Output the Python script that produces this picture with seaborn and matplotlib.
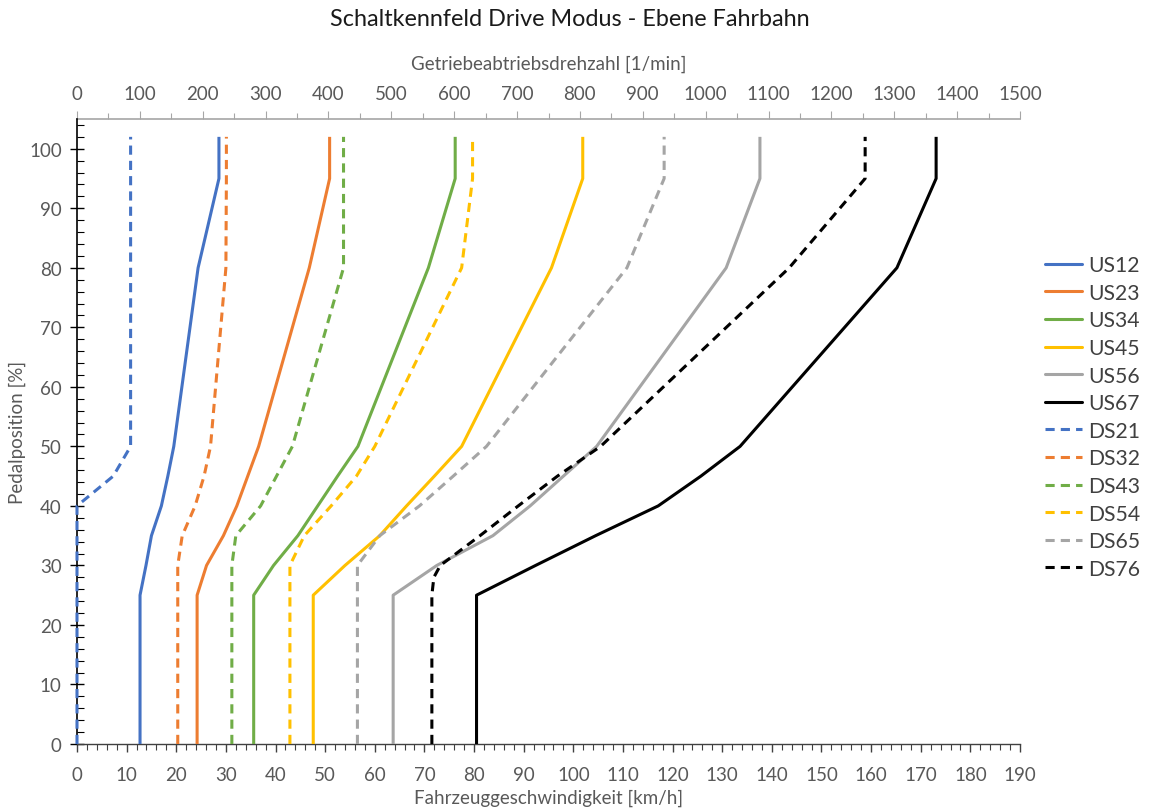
import matplotlib
matplotlib.use("Agg")
import matplotlib.pyplot as plt
from matplotlib.lines import Line2D
from matplotlib.ticker import MultipleLocator
import seaborn as sns
import pandas as pd

# ---------------- data ----------------
series_names = ["US12", "US23", "US34", "US45", "US56", "US67",
                "DS21", "DS32", "DS43", "DS54", "DS65", "DS76"]

pedal_us = [0, 25, 30, 35, 40, 45, 50, 80, 95, 102]
us12 = [12.7, 12.7, 13.9, 15.0, 17.0, 18.3, 19.5, 24.4, 28.6, 28.6]
us23 = [24.2, 24.2, 26.1, 29.5, 32.2, 34.4, 36.6, 46.8, 50.9, 50.9]
us34 = [35.6, 35.6, 39.6, 44.5, 48.5, 52.5, 56.6, 70.8, 76.2, 76.2]
us45 = [47.6, 47.6, 54.0, 61.0, 66.4, 72.0, 77.5, 95.6, 101.9, 101.9]
us56 = [63.7, 63.7, 72.5, 83.8, 91.3, 98.0, 104.7, 130.8, 137.6, 137.6]
us67 = [80.5, 80.5, 92.4, 104.5, 117.1, 125.7, 133.6, 165.2, 173.1, 173.1]

pedal_ds21 = [0, 40, 45, 50, 102]
ds21 = [0.0, 0.0, 7.3, 10.8, 10.8]
pedal_ds = [0, 30, 35, 40, 45, 50, 80, 95, 102]
ds32 = [20.3, 20.3, 21.2, 23.8, 25.6, 26.9, 30.0, 30.1, 30.1]
ds43 = [31.2, 31.2, 32.0, 37.0, 40.2, 43.4, 53.7, 53.7, 53.7]
ds54 = [42.9, 42.9, 45.8, 51.2, 56.3, 60.0, 77.5, 79.7, 79.7]
ds65 = [56.5, 56.5, 61.0, 69.0, 75.8, 82.5, 110.8, 118.3, 118.3]
pedal_ds76 = [0, 25, 28, 30, 35, 40, 45, 50, 80, 95, 102]
ds76 = [71.5, 71.5, 71.9, 73.2, 81.2, 88.9, 96.8, 105.5, 143.5, 158.8, 158.8]

x_ticks_kmh = list(range(0, 191, 10))
x_ticks_rpm = list(range(0, 1501, 100))
rpm_max, kmh_max = 1500, 190

colors = {"US12": "#4472C4", "US23": "#ED7D31", "US34": "#70AD47",
          "US45": "#FFC000", "US56": "#A5A5A5", "US67": "#000000",
          "DS21": "#4472C4", "DS32": "#ED7D31", "DS43": "#70AD47",
          "DS54": "#FFC000", "DS65": "#A5A5A5", "DS76": "#000000"}
dash_map = {n: ("" if n.startswith("US") else (3, 2)) for n in series_names}

series_data = [("US12", pedal_us, us12), ("US23", pedal_us, us23),
               ("US34", pedal_us, us34), ("US45", pedal_us, us45),
               ("US56", pedal_us, us56), ("US67", pedal_us, us67),
               ("DS21", pedal_ds21, ds21), ("DS32", pedal_ds, ds32),
               ("DS43", pedal_ds, ds43), ("DS54", pedal_ds, ds54),
               ("DS65", pedal_ds, ds65), ("DS76", pedal_ds76, ds76)]

rows = []
for name, pedal, speed in series_data:
    for i, (p, s) in enumerate(zip(pedal, speed)):
        rows.append({"series": name, "idx": i, "pedal": p, "speed": s})
df = pd.DataFrame(rows)

# ---------------- style ----------------
sns.set_theme(style="white")
plt.rcParams["font.family"] = ["Lato", "DejaVu Sans"]

W, H = 1149, 812
fig = plt.figure(figsize=(W / 100, H / 100), dpi=100)
L, R, T, B = 77, 1020, 120, 745
ax = fig.add_axes([L / W, 1 - B / H, (R - L) / W, (B - T) / H])

sns.lineplot(data=df, x="speed", y="pedal", hue="series", style="series",
             hue_order=series_names, style_order=series_names,
             palette=colors, dashes=dash_map, sort=False, estimator=None,
             linewidth=2.2, ax=ax, legend=False)
for ln in ax.lines:
    ln.set_clip_on(False)
    ln.set_zorder(3)
    ln.set_solid_capstyle("butt")

ax.set_xlim(0, kmh_max)
ax.set_ylim(0, 105)

tick_col = "#595959"
ax.set_xticks(x_ticks_kmh)
ax.xaxis.set_minor_locator(MultipleLocator(2))
ax.yaxis.set_major_locator(MultipleLocator(10))
ax.yaxis.set_minor_locator(MultipleLocator(2))
ax.set_yticks(list(range(0, 101, 10)))

ax.tick_params(axis="x", which="major", direction="out", length=6, width=1,
               color="#404040", labelsize=13.5, labelcolor=tick_col, pad=10,
               bottom=True, top=False)
ax.tick_params(axis="x", which="minor", direction="out", length=4, width=0.8,
               color="#404040", bottom=True, top=False)
ax.tick_params(axis="y", which="major", direction="inout", length=10, width=1,
               color="#000000", labelsize=13.5, labelcolor=tick_col, pad=6,
               left=True, right=False)
ax.tick_params(axis="y", which="minor", direction="in", length=5, width=0.8,
               color="#000000", left=True, right=False)

for s in ["right", "top"]:
    ax.spines[s].set_visible(False)
ax.spines["left"].set_color("#000000")
ax.spines["left"].set_linewidth(1.2)
ax.spines["bottom"].set_color("#404040")
ax.spines["bottom"].set_linewidth(1.0)

ax.set_xlabel("Fahrzeuggeschwindigkeit [km/h]", fontsize=13.5, color=tick_col,
              labelpad=4)
ax.set_ylabel("Pedalposition [%]", fontsize=13.5, color=tick_col, labelpad=2)

secax = ax.secondary_xaxis("top", functions=(lambda v: v * rpm_max / kmh_max,
                                             lambda v: v * kmh_max / rpm_max))
secax.set_xticks(x_ticks_rpm)
secax.xaxis.set_minor_locator(MultipleLocator(50))
secax.tick_params(axis="x", which="major", direction="out", length=6, width=0.8,
                  color="#A6A6A6", labelsize=13.5, labelcolor=tick_col, pad=6)
secax.tick_params(axis="x", which="minor", direction="out", length=4, width=0.8,
                  color="#A6A6A6")
secax.spines["top"].set_color("#A6A6A6")
secax.spines["top"].set_linewidth(1.2)
secax.set_xlabel("Getriebeabtriebsdrehzahl [1/min]", fontsize=13.5,
                 color=tick_col, labelpad=12)

fig.text(570 / W, 1 - 20 / H, "Schaltkennfeld Drive Modus - Ebene Fahrbahn",
         ha="center", va="center", fontsize=16.8, color="#1a1a1a")

handles = [Line2D([0], [0], color=colors[n], lw=2.2,
                  linestyle="-" if n.startswith("US") else (0, (3, 2)))
           for n in series_names]
fig.legend(handles, series_names, loc="center left",
           bbox_to_anchor=(1045 / W, 1 - 418 / H), frameon=False,
           fontsize=15.2, handlelength=1.75, handletextpad=0.3,
           labelspacing=0.36, borderaxespad=0, borderpad=0,
           labelcolor="#404040")

fig.savefig("out.png", dpi=100)
